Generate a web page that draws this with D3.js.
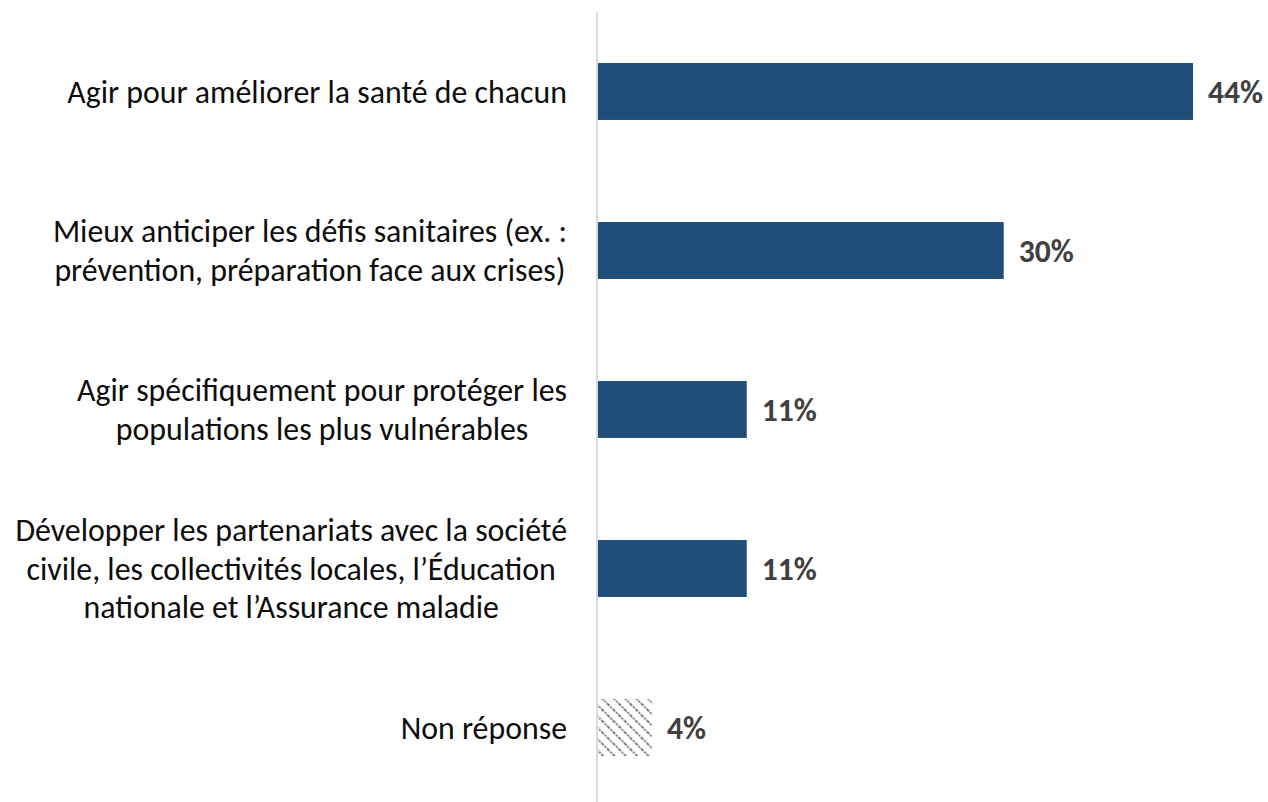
<!DOCTYPE html>
<html><head><meta charset="utf-8">
<script src="https://cdn.jsdelivr.net/npm/d3@7"></script>
<style>
html,body{margin:0;padding:0;background:#fff;}
svg{display:block;}
</style></head>
<body>
<svg id="chart" width="1268" height="802"></svg>
<script>
const categories = [
  ["Agir pour améliorer la santé de chacun"],
  ["Mieux anticiper les défis sanitaires (ex. :", "prévention, préparation face aux crises)"],
  ["Agir spécifiquement pour protéger les", "populations les plus vulnérables"],
  ["Développer les partenariats avec la société", "civile, les collectivités locales, l’Éducation", "nationale et l’Assurance maladie"],
  ["Non réponse"]
];
const values = [44, 30, 11, 11, 4];
const valueLabels = ["44%", "30%", "11%", "11%", "4%"];
const hatched = [false, false, false, false, true];

const svg = d3.select("#chart");
const W = 1268, H = 802;
const fontFam = "Carlito, Calibri, 'Open Sans', Lato, sans-serif";

function fitSize(str, weight, target) {
  const t = svg.append("text").attr("font-family", fontFam).attr("font-weight", weight)
    .attr("font-size", 100).text(str);
  const w = t.node().getComputedTextLength();
  t.remove();
  return 100 * target / w;
}
const catSize = fitSize("Agir pour améliorer la santé de chacun", "normal", 500);
const valSize = fitSize("44%", "bold", 55);

const x = d3.scaleLinear().domain([0, 44]).range([598, 1193]);
const y = d3.scaleBand().domain(d3.range(categories.length)).range([12, 807])
  .paddingInner(0.642).paddingOuter(0.321);

const defs = svg.append("defs");
const pat = defs.append("pattern").attr("id","hatch").attr("patternUnits","userSpaceOnUse")
  .attr("width", 8).attr("height", 8).attr("patternTransform","rotate(45)");
pat.append("rect").attr("width",8).attr("height",8).attr("fill","#fff");
pat.append("line").attr("x1",0).attr("y1",4).attr("x2",8).attr("y2",4)
  .attr("stroke","#7f7f7f").attr("stroke-width",2).attr("stroke-dasharray","2,1.2");

// bars
svg.append("g").selectAll("rect").data(values).join("rect")
  .attr("x", x(0))
  .attr("y", (d,i) => y(i))
  .attr("width", d => x(d) - x(0))
  .attr("height", y.bandwidth())
  .attr("fill", (d,i) => hatched[i] ? "url(#hatch)" : "#1F4E79");

// axis line
svg.append("line").attr("x1", 597).attr("x2", 597).attr("y1", 12).attr("y2", H)
  .attr("stroke", "#d9d9d9").attr("stroke-width", 2);

// value labels
svg.append("g").selectAll("text").data(values).join("text")
  .attr("x", d => x(d) + 15)
  .attr("y", (d,i) => y(i) + y.bandwidth()/2)
  .attr("dy", "0.35em")
  .attr("font-family", fontFam).attr("font-weight", "bold")
  .attr("font-size", valSize).attr("fill", "#404040")
  .text((d,i) => valueLabels[i]);

// category labels
const lineH = 38.5;
const rightEdge = 567;
categories.forEach((lines, i) => {
  const cy = y(i) + y.bandwidth()/2;
  const g = svg.append("g");
  const texts = lines.map((ln, j) => g.append("text")
    .attr("y", cy + (j - (lines.length - 1)/2) * lineH)
    .attr("dy", "0.35em")
    .attr("font-family", fontFam).attr("font-size", catSize)
    .attr("fill", "#0d0d0d")
    .attr("text-anchor", "middle")
    .text(ln));
  const maxW = d3.max(texts, t => t.node().getComputedTextLength());
  texts.forEach(t => t.attr("x", rightEdge - maxW/2));
});
</script>
</body></html>
